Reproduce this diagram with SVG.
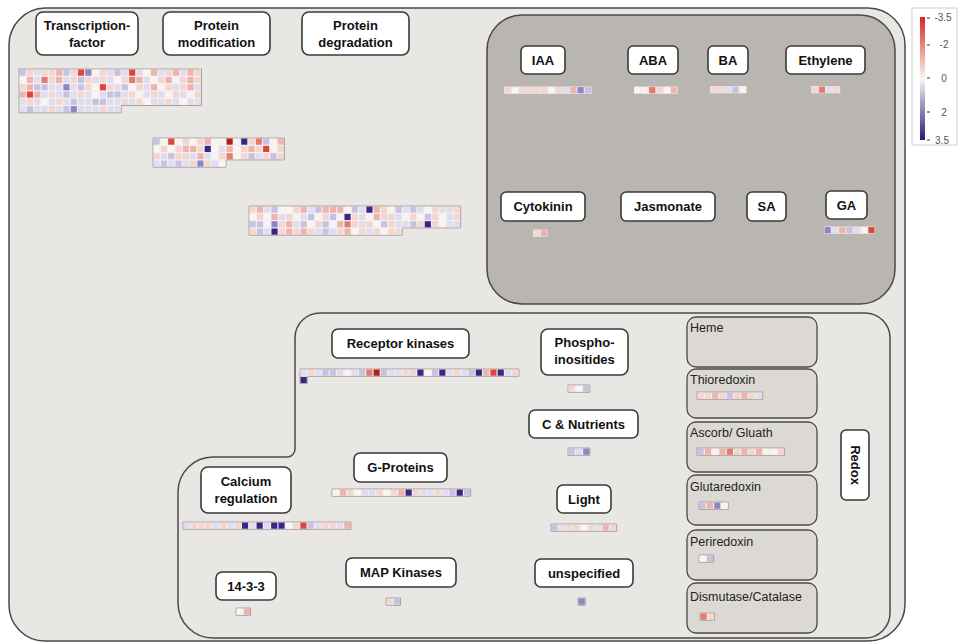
<svg xmlns="http://www.w3.org/2000/svg" width="960" height="644" viewBox="0 0 960 644">
<defs>
<style>
.bg{fill:#e9e7e4;stroke:#4a4a4a;stroke-width:1.5}
.hb{fill:#b9b6b1;stroke:#4a4a4a;stroke-width:1.5}
.lb{fill:#fff;stroke:#3a3a3a;stroke-width:1.6}
.lt{font-family:"Liberation Sans",Arial,sans-serif;font-weight:bold;font-size:13px;fill:#111;text-anchor:middle}
.rb{fill:#dcd9d5;stroke:#4a4a4a;stroke-width:1.3}
.rt{font-family:"Liberation Sans",Arial,sans-serif;font-size:12.5px;fill:#222}
.gb{fill:#f4f0ee;stroke:#a8a09a;stroke-width:1}
.hg{fill:#ece6e3}
.gt{font-family:"Liberation Sans",Arial,sans-serif;font-size:10px;fill:#555;text-anchor:middle}
.w{fill:#f8f4f3}.a{fill:#f3d5d1}.b{fill:#eeb3ac}.c{fill:#e77a70}.r{fill:#e1443a}.d{fill:#ad2219}
.l{fill:#e0ddf0}.m{fill:#c6c2e3}.n{fill:#8d85c8}.k{fill:#3a2488}
</style>
<rect id="c" x=".08" y=".08" width=".84" height=".84"/>
<linearGradient id="leg" x1="0" y1="0" x2="0" y2="1">
<stop offset="0" stop-color="#d9261c"/>
<stop offset="0.5" stop-color="#fbf6f3"/>
<stop offset="1" stop-color="#2c1680"/>
</linearGradient>
</defs>
<rect width="960" height="644" fill="#fff"/>

<path id="outer" class="bg" d="M45 8H868A37 37 0 0 1 905 45V604A37 37 0 0 1 868 641H45A36 36 0 0 1 9 605V45A37 37 0 0 1 45 8Z"/>
<rect id="hormones" class="hb" x="487" y="15" width="408" height="289" rx="35"/>
<path id="lower" class="bg" d="M320 313H865A25 25 0 0 1 890 338V613A25 25 0 0 1 865 638H213A35 35 0 0 1 178 603V492A35 35 0 0 1 213 457H287A8 8 0 0 0 295 449V338A25 25 0 0 1 320 313Z"/>

<g id="connectors"/>

<g id="legend">
<rect x="912" y="8" width="45" height="137" fill="#fff" stroke="#d0d0d0"/>
<rect x="920" y="17" width="5" height="123" fill="url(#leg)"/>
<path d="M927 18h3M927 45h3M927 78h3M927 112h3M927 140h3" stroke="#333" stroke-width="1"/>
<text class="gt" x="943" y="21">-3.5</text>
<text class="gt" x="944" y="48">-2</text>
<text class="gt" x="944" y="82">0</text>
<text class="gt" x="944" y="116">2</text>
<text class="gt" x="942" y="144">3.5</text>
</g>

<g id="transcription-factor">
<rect class="lb" x="36" y="12" width="102" height="43" rx="7"/>
<text class="lt" x="87" y="30">Transcription-</text>
<text class="lt" x="87" y="47">factor</text>
<g transform="translate(19,69) scale(7.3)">
<path class="gb" vector-effect="non-scaling-stroke" d="M0 0H25V5H14V6H0Z"/>
<g><use href="#c" x="0" class="m"/><use href="#c" x="1" class="a"/><use href="#c" x="2" class="l"/><use href="#c" x="3" class="a"/><use href="#c" x="4" class="a"/><use href="#c" x="5" class="b"/><use href="#c" x="6" class="m"/><use href="#c" x="7" class="a"/><use href="#c" x="8" class="r"/><use href="#c" x="9" class="n"/><use href="#c" x="10" class="w"/><use href="#c" x="11" class="a"/><use href="#c" x="12" class="l"/><use href="#c" x="13" class="m"/><use href="#c" x="14" class="l"/><use href="#c" x="15" class="r"/><use href="#c" x="16" class="l"/><use href="#c" x="17" class="w"/><use href="#c" x="18" class="b"/><use href="#c" x="19" class="l"/><use href="#c" x="20" class="a"/><use href="#c" x="21" class="b"/><use href="#c" x="22" class="l"/><use href="#c" x="23" class="b"/><use href="#c" x="24" class="a"/></g>
<g transform="translate(0,1)"><use href="#c" x="0" class="w"/><use href="#c" x="1" class="b"/><use href="#c" x="2" class="l"/><use href="#c" x="3" class="c"/><use href="#c" x="4" class="a"/><use href="#c" x="5" class="b"/><use href="#c" x="6" class="l"/><use href="#c" x="7" class="a"/><use href="#c" x="8" class="m"/><use href="#c" x="9" class="a"/><use href="#c" x="10" class="l"/><use href="#c" x="11" class="a"/><use href="#c" x="12" class="l"/><use href="#c" x="13" class="w"/><use href="#c" x="14" class="a"/><use href="#c" x="15" class="c"/><use href="#c" x="16" class="b"/><use href="#c" x="17" class="l"/><use href="#c" x="18" class="w"/><use href="#c" x="19" class="a"/><use href="#c" x="20" class="b"/><use href="#c" x="21" class="w"/><use href="#c" x="22" class="a"/><use href="#c" x="23" class="b"/><use href="#c" x="24" class="a"/></g>
<g transform="translate(0,2)"><use href="#c" x="0" class="a"/><use href="#c" x="1" class="b"/><use href="#c" x="2" class="m"/><use href="#c" x="3" class="m"/><use href="#c" x="4" class="l"/><use href="#c" x="5" class="l"/><use href="#c" x="6" class="n"/><use href="#c" x="7" class="l"/><use href="#c" x="8" class="m"/><use href="#c" x="9" class="a"/><use href="#c" x="10" class="w"/><use href="#c" x="11" class="r"/><use href="#c" x="12" class="a"/><use href="#c" x="13" class="l"/><use href="#c" x="14" class="m"/><use href="#c" x="15" class="w"/><use href="#c" x="16" class="a"/><use href="#c" x="17" class="l"/><use href="#c" x="18" class="b"/><use href="#c" x="19" class="w"/><use href="#c" x="20" class="a"/><use href="#c" x="21" class="l"/><use href="#c" x="22" class="a"/><use href="#c" x="23" class="b"/><use href="#c" x="24" class="l"/></g>
<g transform="translate(0,3)"><use href="#c" x="0" class="b"/><use href="#c" x="1" class="r"/><use href="#c" x="2" class="b"/><use href="#c" x="3" class="l"/><use href="#c" x="4" class="a"/><use href="#c" x="5" class="l"/><use href="#c" x="6" class="m"/><use href="#c" x="7" class="l"/><use href="#c" x="8" class="a"/><use href="#c" x="9" class="l"/><use href="#c" x="10" class="w"/><use href="#c" x="11" class="l"/><use href="#c" x="12" class="m"/><use href="#c" x="13" class="m"/><use href="#c" x="14" class="l"/><use href="#c" x="15" class="a"/><use href="#c" x="16" class="w"/><use href="#c" x="17" class="l"/><use href="#c" x="18" class="a"/><use href="#c" x="19" class="l"/><use href="#c" x="20" class="w"/><use href="#c" x="21" class="a"/><use href="#c" x="22" class="l"/><use href="#c" x="23" class="w"/><use href="#c" x="24" class="a"/></g>
<g transform="translate(0,4)"><use href="#c" x="0" class="l"/><use href="#c" x="1" class="a"/><use href="#c" x="2" class="l"/><use href="#c" x="3" class="w"/><use href="#c" x="4" class="l"/><use href="#c" x="5" class="a"/><use href="#c" x="6" class="l"/><use href="#c" x="7" class="m"/><use href="#c" x="8" class="l"/><use href="#c" x="9" class="l"/><use href="#c" x="10" class="m"/><use href="#c" x="11" class="m"/><use href="#c" x="12" class="l"/><use href="#c" x="13" class="l"/><use href="#c" x="14" class="a"/><use href="#c" x="15" class="l"/><use href="#c" x="16" class="a"/><use href="#c" x="17" class="w"/><use href="#c" x="18" class="l"/><use href="#c" x="19" class="l"/><use href="#c" x="20" class="a"/><use href="#c" x="21" class="l"/><use href="#c" x="22" class="w"/><use href="#c" x="23" class="l"/><use href="#c" x="24" class="l"/></g>
<g transform="translate(0,5)"><use href="#c" x="0" class="l"/><use href="#c" x="1" class="m"/><use href="#c" x="2" class="l"/><use href="#c" x="3" class="l"/><use href="#c" x="4" class="a"/><use href="#c" x="5" class="l"/><use href="#c" x="6" class="m"/><use href="#c" x="7" class="n"/><use href="#c" x="8" class="l"/><use href="#c" x="9" class="l"/><use href="#c" x="10" class="l"/><use href="#c" x="11" class="a"/><use href="#c" x="12" class="l"/><use href="#c" x="13" class="l"/></g>
</g>
</g>

<g id="protein-modification">
<rect class="lb" x="163" y="12" width="107" height="43" rx="7"/>
<text class="lt" x="216.5" y="30">Protein</text>
<text class="lt" x="216.5" y="47">modification</text>
<g transform="translate(153,138) scale(7.3)">
<path class="gb" vector-effect="non-scaling-stroke" d="M0 0H18V3H10V4H0Z"/>
<g><use href="#c" x="0" class="m"/><use href="#c" x="1" class="w"/><use href="#c" x="2" class="r"/><use href="#c" x="3" class="w"/><use href="#c" x="4" class="a"/><use href="#c" x="5" class="w"/><use href="#c" x="6" class="a"/><use href="#c" x="7" class="b"/><use href="#c" x="8" class="w"/><use href="#c" x="9" class="w"/><use href="#c" x="10" class="d"/><use href="#c" x="11" class="w"/><use href="#c" x="12" class="k"/><use href="#c" x="13" class="a"/><use href="#c" x="14" class="c"/><use href="#c" x="15" class="m"/><use href="#c" x="16" class="w"/><use href="#c" x="17" class="b"/></g>
<g transform="translate(0,1)"><use href="#c" x="0" class="w"/><use href="#c" x="1" class="a"/><use href="#c" x="2" class="w"/><use href="#c" x="3" class="a"/><use href="#c" x="4" class="b"/><use href="#c" x="5" class="b"/><use href="#c" x="6" class="a"/><use href="#c" x="7" class="k"/><use href="#c" x="8" class="w"/><use href="#c" x="9" class="l"/><use href="#c" x="10" class="b"/><use href="#c" x="11" class="w"/><use href="#c" x="12" class="a"/><use href="#c" x="13" class="b"/><use href="#c" x="14" class="a"/><use href="#c" x="15" class="r"/><use href="#c" x="16" class="w"/><use href="#c" x="17" class="a"/></g>
<g transform="translate(0,2)"><use href="#c" x="0" class="a"/><use href="#c" x="1" class="l"/><use href="#c" x="2" class="m"/><use href="#c" x="3" class="a"/><use href="#c" x="4" class="a"/><use href="#c" x="5" class="l"/><use href="#c" x="6" class="b"/><use href="#c" x="7" class="l"/><use href="#c" x="8" class="w"/><use href="#c" x="9" class="a"/><use href="#c" x="10" class="c"/><use href="#c" x="11" class="w"/><use href="#c" x="12" class="a"/><use href="#c" x="13" class="m"/><use href="#c" x="14" class="l"/><use href="#c" x="15" class="a"/><use href="#c" x="16" class="m"/><use href="#c" x="17" class="a"/></g>
<g transform="translate(0,3)"><use href="#c" x="0" class="l"/><use href="#c" x="1" class="m"/><use href="#c" x="2" class="l"/><use href="#c" x="3" class="m"/><use href="#c" x="4" class="l"/><use href="#c" x="5" class="a"/><use href="#c" x="6" class="n"/><use href="#c" x="7" class="a"/><use href="#c" x="8" class="l"/><use href="#c" x="9" class="w"/></g>
</g>
</g>

<g id="protein-degradation">
<rect class="lb" x="302" y="12" width="107" height="43" rx="7"/>
<text class="lt" x="355.5" y="30">Protein</text>
<text class="lt" x="355.5" y="47">degradation</text>
<g transform="translate(249,206) scale(7.3)">
<path class="gb" vector-effect="non-scaling-stroke" d="M0 0H29V3H21V4H0Z"/>
<g><use href="#c" x="0" class="a"/><use href="#c" x="1" class="b"/><use href="#c" x="2" class="l"/><use href="#c" x="3" class="m"/><use href="#c" x="4" class="w"/><use href="#c" x="5" class="w"/><use href="#c" x="6" class="a"/><use href="#c" x="7" class="b"/><use href="#c" x="8" class="l"/><use href="#c" x="9" class="m"/><use href="#c" x="10" class="b"/><use href="#c" x="11" class="b"/><use href="#c" x="12" class="b"/><use href="#c" x="13" class="w"/><use href="#c" x="14" class="m"/><use href="#c" x="15" class="l"/><use href="#c" x="16" class="k"/><use href="#c" x="17" class="b"/><use href="#c" x="18" class="a"/><use href="#c" x="19" class="w"/><use href="#c" x="20" class="m"/><use href="#c" x="21" class="l"/><use href="#c" x="22" class="m"/><use href="#c" x="23" class="l"/><use href="#c" x="24" class="w"/><use href="#c" x="25" class="a"/><use href="#c" x="26" class="l"/><use href="#c" x="27" class="l"/><use href="#c" x="28" class="a"/></g>
<g transform="translate(0,1)"><use href="#c" x="0" class="w"/><use href="#c" x="1" class="a"/><use href="#c" x="2" class="w"/><use href="#c" x="3" class="b"/><use href="#c" x="4" class="l"/><use href="#c" x="5" class="a"/><use href="#c" x="6" class="w"/><use href="#c" x="7" class="l"/><use href="#c" x="8" class="m"/><use href="#c" x="9" class="w"/><use href="#c" x="10" class="a"/><use href="#c" x="11" class="m"/><use href="#c" x="12" class="w"/><use href="#c" x="13" class="k"/><use href="#c" x="14" class="a"/><use href="#c" x="15" class="l"/><use href="#c" x="16" class="w"/><use href="#c" x="17" class="b"/><use href="#c" x="18" class="a"/><use href="#c" x="19" class="a"/><use href="#c" x="20" class="l"/><use href="#c" x="21" class="w"/><use href="#c" x="22" class="a"/><use href="#c" x="23" class="w"/><use href="#c" x="24" class="m"/><use href="#c" x="25" class="a"/><use href="#c" x="26" class="w"/><use href="#c" x="27" class="l"/><use href="#c" x="28" class="a"/></g>
<g transform="translate(0,2)"><use href="#c" x="0" class="m"/><use href="#c" x="1" class="m"/><use href="#c" x="2" class="w"/><use href="#c" x="3" class="n"/><use href="#c" x="4" class="a"/><use href="#c" x="5" class="b"/><use href="#c" x="6" class="l"/><use href="#c" x="7" class="m"/><use href="#c" x="8" class="w"/><use href="#c" x="9" class="a"/><use href="#c" x="10" class="m"/><use href="#c" x="11" class="w"/><use href="#c" x="12" class="b"/><use href="#c" x="13" class="c"/><use href="#c" x="14" class="a"/><use href="#c" x="15" class="l"/><use href="#c" x="16" class="a"/><use href="#c" x="17" class="w"/><use href="#c" x="18" class="m"/><use href="#c" x="19" class="a"/><use href="#c" x="20" class="l"/><use href="#c" x="21" class="l"/><use href="#c" x="22" class="m"/><use href="#c" x="23" class="a"/><use href="#c" x="24" class="k"/><use href="#c" x="25" class="a"/><use href="#c" x="26" class="w"/><use href="#c" x="27" class="l"/><use href="#c" x="28" class="l"/></g>
<g transform="translate(0,3)"><use href="#c" x="0" class="a"/><use href="#c" x="1" class="m"/><use href="#c" x="2" class="l"/><use href="#c" x="3" class="k"/><use href="#c" x="4" class="a"/><use href="#c" x="5" class="b"/><use href="#c" x="6" class="a"/><use href="#c" x="7" class="b"/><use href="#c" x="8" class="a"/><use href="#c" x="9" class="l"/><use href="#c" x="10" class="m"/><use href="#c" x="11" class="l"/><use href="#c" x="12" class="a"/><use href="#c" x="13" class="b"/><use href="#c" x="14" class="w"/><use href="#c" x="15" class="a"/><use href="#c" x="16" class="l"/><use href="#c" x="17" class="a"/><use href="#c" x="18" class="w"/><use href="#c" x="19" class="a"/><use href="#c" x="20" class="a"/></g>
</g>
</g>

<g id="iaa">
<rect class="lb" x="521" y="46" width="44" height="28" rx="5"/>
<text class="lt" x="543" y="65">IAA</text>
<g transform="translate(504,86.5) scale(7.3)"><rect class="hg" width="12" height="1"/><use href="#c" x="0" class="a"/><use href="#c" x="1" class="w"/><use href="#c" x="2" class="a"/><use href="#c" x="3" class="a"/><use href="#c" x="4" class="a"/><use href="#c" x="5" class="a"/><use href="#c" x="6" class="w"/><use href="#c" x="7" class="a"/><use href="#c" x="8" class="l"/><use href="#c" x="9" class="b"/><use href="#c" x="10" class="n"/><use href="#c" x="11" class="m"/></g>
</g>
<g id="aba">
<rect class="lb" x="628" y="46" width="50" height="28" rx="5"/>
<text class="lt" x="653" y="65">ABA</text>
<g transform="translate(634,86.5) scale(7.3)"><rect class="hg" width="6" height="1"/><use href="#c" x="0" class="w"/><use href="#c" x="1" class="w"/><use href="#c" x="2" class="c"/><use href="#c" x="3" class="a"/><use href="#c" x="4" class="w"/><use href="#c" x="5" class="b"/></g>
</g>
<g id="ba">
<rect class="lb" x="708" y="46" width="40" height="28" rx="5"/>
<text class="lt" x="728" y="65">BA</text>
<g transform="translate(710,86) scale(7.3)"><rect class="hg" width="5" height="1"/><use href="#c" x="0" class="a"/><use href="#c" x="1" class="a"/><use href="#c" x="2" class="l"/><use href="#c" x="3" class="m"/><use href="#c" x="4" class="w"/></g>
</g>
<g id="ethylene">
<rect class="lb" x="786" y="46" width="79" height="28" rx="5"/>
<text class="lt" x="825.5" y="65">Ethylene</text>
<g transform="translate(811,86) scale(7.3)"><rect class="hg" width="4" height="1"/><use href="#c" x="0" class="a"/><use href="#c" x="1" class="c"/><use href="#c" x="2" class="l"/><use href="#c" x="3" class="a"/></g>
</g>
<g id="cytokinin">
<rect class="lb" x="501" y="192" width="84" height="29" rx="5"/>
<text class="lt" x="543" y="211">Cytokinin</text>
<g transform="translate(533,229.5) scale(7.3)"><rect class="hg" width="2" height="1"/><use href="#c" x="0" class="a"/><use href="#c" x="1" class="b"/></g>
</g>
<g id="jasmonate">
<rect class="lb" x="621" y="192" width="94" height="29" rx="5"/>
<text class="lt" x="668" y="211">Jasmonate</text>
</g>
<g id="sa">
<rect class="lb" x="747" y="192" width="39" height="29" rx="5"/>
<text class="lt" x="766.5" y="211">SA</text>
</g>
<g id="ga">
<rect class="lb" x="826" y="191" width="41" height="28" rx="5"/>
<text class="lt" x="846.5" y="210">GA</text>
<g transform="translate(824,226.5) scale(7.3)"><rect class="hg" width="7" height="1"/><use href="#c" x="0" class="n"/><use href="#c" x="1" class="l"/><use href="#c" x="2" class="b"/><use href="#c" x="3" class="m"/><use href="#c" x="4" class="l"/><use href="#c" x="5" class="w"/><use href="#c" x="6" class="r"/></g>
</g>

<g id="receptor-kinases">
<rect class="lb" x="332" y="329" width="137" height="29" rx="6"/>
<text class="lt" x="400.5" y="348">Receptor kinases</text>
<g transform="translate(300,369) scale(7.3)">
<path class="gb" vector-effect="non-scaling-stroke" d="M0 0H30V1H1V2H0Z"/>
<use href="#c" x="0" class="l"/><use href="#c" x="1" class="a"/><use href="#c" x="2" class="l"/><use href="#c" x="3" class="m"/><use href="#c" x="4" class="m"/><use href="#c" x="5" class="l"/><use href="#c" x="6" class="w"/><use href="#c" x="7" class="l"/><use href="#c" x="8" class="m"/><use href="#c" x="9" class="c"/><use href="#c" x="10" class="d"/><use href="#c" x="11" class="m"/><use href="#c" x="12" class="l"/><use href="#c" x="13" class="l"/><use href="#c" x="14" class="a"/><use href="#c" x="15" class="a"/><use href="#c" x="16" class="k"/><use href="#c" x="17" class="w"/><use href="#c" x="18" class="m"/><use href="#c" x="19" class="k"/><use href="#c" x="20" class="l"/><use href="#c" x="21" class="a"/><use href="#c" x="22" class="l"/><use href="#c" x="23" class="m"/><use href="#c" x="24" class="k"/><use href="#c" x="25" class="b"/><use href="#c" x="26" class="r"/><use href="#c" x="27" class="k"/><use href="#c" x="28" class="l"/><use href="#c" x="29" class="a"/>
<use href="#c" x="0" y="1" class="k"/>
</g>
</g>

<g id="phosphoinositides">
<rect class="lb" x="541" y="329" width="87" height="46" rx="7"/>
<text class="lt" x="584.5" y="347">Phospho-</text>
<text class="lt" x="584.5" y="364">inositides</text>
<g transform="translate(568,385) scale(7.3)"><path class="gb" vector-effect="non-scaling-stroke" d="M0 0H3V1H0Z"/><use href="#c" x="0" class="a"/><use href="#c" x="1" class="w"/><use href="#c" x="2" class="m"/></g>
</g>
<g id="c-nutrients">
<rect class="lb" x="529" y="410" width="109" height="28" rx="6"/>
<text class="lt" x="583.5" y="429">C &amp; Nutrients</text>
<g transform="translate(568,448) scale(7.3)"><path class="gb" vector-effect="non-scaling-stroke" d="M0 0H3V1H0Z"/><use href="#c" x="0" class="m"/><use href="#c" x="1" class="l"/><use href="#c" x="2" class="n"/></g>
</g>
<g id="light">
<rect class="lb" x="557" y="485" width="54" height="28" rx="6"/>
<text class="lt" x="584" y="504">Light</text>
<g transform="translate(551,524) scale(7.3)"><path class="gb" vector-effect="non-scaling-stroke" d="M0 0H9V1H0Z"/><use href="#c" x="0" class="m"/><use href="#c" x="1" class="l"/><use href="#c" x="2" class="a"/><use href="#c" x="3" class="a"/><use href="#c" x="4" class="w"/><use href="#c" x="5" class="a"/><use href="#c" x="6" class="l"/><use href="#c" x="7" class="b"/><use href="#c" x="8" class="a"/></g>
</g>
<g id="unspecified">
<rect class="lb" x="535" y="559" width="98" height="28" rx="6"/>
<text class="lt" x="584" y="578">unspecified</text>
<g transform="translate(578,598) scale(7.3)"><path class="gb" vector-effect="non-scaling-stroke" d="M0 0H1V1H0Z"/><use href="#c" x="0" class="n"/></g>
</g>

<g id="calcium-regulation">
<rect class="lb" x="201" y="467" width="90" height="46" rx="7"/>
<text class="lt" x="246" y="486">Calcium</text>
<text class="lt" x="246" y="503">regulation</text>
<g transform="translate(183,522) scale(7.3)"><path class="gb" vector-effect="non-scaling-stroke" d="M0 0H23V1H0Z"/>
<use href="#c" x="0" class="l"/><use href="#c" x="1" class="a"/><use href="#c" x="2" class="a"/><use href="#c" x="3" class="a"/><use href="#c" x="4" class="l"/><use href="#c" x="5" class="a"/><use href="#c" x="6" class="l"/><use href="#c" x="7" class="a"/><use href="#c" x="8" class="k"/><use href="#c" x="9" class="l"/><use href="#c" x="10" class="k"/><use href="#c" x="11" class="l"/><use href="#c" x="12" class="k"/><use href="#c" x="13" class="k"/><use href="#c" x="14" class="w"/><use href="#c" x="15" class="a"/><use href="#c" x="16" class="r"/><use href="#c" x="17" class="m"/><use href="#c" x="18" class="l"/><use href="#c" x="19" class="a"/><use href="#c" x="20" class="a"/><use href="#c" x="21" class="l"/><use href="#c" x="22" class="b"/></g>
</g>
<g id="g-proteins">
<rect class="lb" x="354" y="453" width="93" height="29" rx="6"/>
<text class="lt" x="400.5" y="472">G-Proteins</text>
<g transform="translate(332,489) scale(7.3)"><path class="gb" vector-effect="non-scaling-stroke" d="M0 0H19V1H0Z"/>
<use href="#c" x="0" class="w"/><use href="#c" x="1" class="b"/><use href="#c" x="2" class="a"/><use href="#c" x="3" class="w"/><use href="#c" x="4" class="l"/><use href="#c" x="5" class="l"/><use href="#c" x="6" class="a"/><use href="#c" x="7" class="w"/><use href="#c" x="8" class="a"/><use href="#c" x="9" class="b"/><use href="#c" x="10" class="k"/><use href="#c" x="11" class="a"/><use href="#c" x="12" class="l"/><use href="#c" x="13" class="l"/><use href="#c" x="14" class="a"/><use href="#c" x="15" class="l"/><use href="#c" x="16" class="m"/><use href="#c" x="17" class="k"/><use href="#c" x="18" class="m"/></g>
</g>
<g id="n14-3-3">
<rect class="lb" x="216" y="572" width="60" height="28" rx="6"/>
<text class="lt" x="246" y="591">14-3-3</text>
<g transform="translate(236,608) scale(7.3)"><path class="gb" vector-effect="non-scaling-stroke" d="M0 0H2V1H0Z"/><use href="#c" x="0" class="w"/><use href="#c" x="1" class="b"/></g>
</g>
<g id="map-kinases">
<rect class="lb" x="346" y="558" width="110" height="29" rx="6"/>
<text class="lt" x="401" y="577">MAP Kinases</text>
<g transform="translate(386,598) scale(7.3)"><path class="gb" vector-effect="non-scaling-stroke" d="M0 0H2V1H0Z"/><use href="#c" x="0" class="a"/><use href="#c" x="1" class="m"/></g>
</g>

<g id="heme">
<rect class="rb" x="687" y="317" width="130" height="50" rx="9"/>
<text class="rt" x="690" y="332">Heme</text>
</g>
<g id="thioredoxin">
<rect class="rb" x="687" y="369" width="130" height="49" rx="9"/>
<text class="rt" x="690" y="384">Thioredoxin</text>
<g transform="translate(697,392) scale(7.3)"><path class="gb" vector-effect="non-scaling-stroke" d="M0 0H9V1H0Z"/><use href="#c" x="0" class="a"/><use href="#c" x="1" class="a"/><use href="#c" x="2" class="b"/><use href="#c" x="3" class="a"/><use href="#c" x="4" class="m"/><use href="#c" x="5" class="a"/><use href="#c" x="6" class="b"/><use href="#c" x="7" class="a"/><use href="#c" x="8" class="l"/></g>
</g>
<g id="ascorb-gluath">
<rect class="rb" x="687" y="422" width="130" height="50" rx="9"/>
<text class="rt" x="690" y="437">Ascorb/ Gluath</text>
<g transform="translate(697,448) scale(7.3)"><path class="gb" vector-effect="non-scaling-stroke" d="M0 0H12V1H0Z"/><use href="#c" x="0" class="m"/><use href="#c" x="1" class="b"/><use href="#c" x="2" class="w"/><use href="#c" x="3" class="b"/><use href="#c" x="4" class="c"/><use href="#c" x="5" class="a"/><use href="#c" x="6" class="b"/><use href="#c" x="7" class="a"/><use href="#c" x="8" class="b"/><use href="#c" x="9" class="w"/><use href="#c" x="10" class="w"/><use href="#c" x="11" class="a"/></g>
</g>
<g id="glutaredoxin">
<rect class="rb" x="687" y="475" width="130" height="50" rx="9"/>
<text class="rt" x="690" y="491">Glutaredoxin</text>
<g transform="translate(699,502) scale(7.3)"><path class="gb" vector-effect="non-scaling-stroke" d="M0 0H4V1H0Z"/><use href="#c" x="0" class="m"/><use href="#c" x="1" class="b"/><use href="#c" x="2" class="n"/><use href="#c" x="3" class="w"/></g>
</g>
<g id="periredoxin">
<rect class="rb" x="687" y="530" width="130" height="50" rx="9"/>
<text class="rt" x="690" y="546">Periredoxin</text>
<g transform="translate(699,555) scale(7.3)"><path class="gb" vector-effect="non-scaling-stroke" d="M0 0H2V1H0Z"/><use href="#c" x="0" class="w"/><use href="#c" x="1" class="m"/></g>
</g>
<g id="dismutase-catalase">
<rect class="rb" x="687" y="583" width="130" height="50" rx="9"/>
<text class="rt" x="690" y="601">Dismutase/Catalase</text>
<g transform="translate(700,613) scale(7.3)"><path class="gb" vector-effect="non-scaling-stroke" d="M0 0H2V1H0Z"/><use href="#c" x="0" class="c"/><use href="#c" x="1" class="a"/></g>
</g>
<g id="redox">
<rect class="lb" x="841" y="430" width="28" height="70" rx="5"/>
<text class="lt" transform="translate(850.5,465) rotate(90)">Redox</text>
</g>
</svg>
